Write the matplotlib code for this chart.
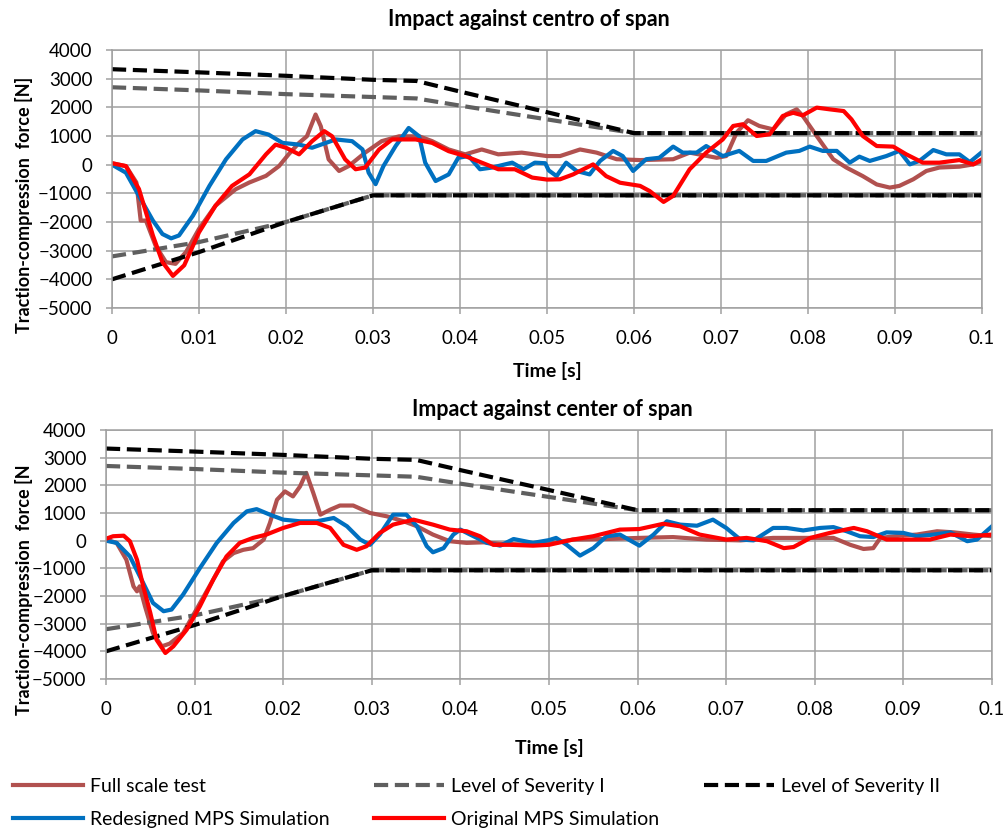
import matplotlib
matplotlib.use("Agg")
import matplotlib.pyplot as plt

plt.rcParams['font.family'] = ['Lato', 'DejaVu Sans']

# ---- severity levels (same in both panels)
t_up = [0, 0.01, 0.02, 0.03, 0.035, 0.04, 0.05, 0.06, 0.1]
sev1_up = [2700, 2590, 2460, 2360, 2310, 2060, 1580, 1100, 1100]
sev2_up = [3330, 3220, 3100, 2960, 2920, 2550, 1830, 1100, 1100]
t_low = [0, 0.01, 0.02, 0.03, 0.1]
sev1_low = [-3200, -2700, -2000, -1070, -1070]
sev2_low = [-4000, -3050, -2000, -1070, -1070]

# ---- top panel: "centro of span"
top_full_t = [0, 0.0016, 0.0028, 0.0033, 0.0039, 0.005, 0.0062, 0.0073, 0.0085, 0.01, 0.0119, 0.0142,
              0.0158, 0.0177, 0.0192, 0.0203, 0.0215, 0.0224, 0.0234, 0.024, 0.0249, 0.0261, 0.0272,
              0.0291, 0.031, 0.033, 0.0353, 0.0368, 0.0387, 0.0406, 0.0425, 0.0444, 0.0471, 0.05,
              0.0515, 0.0538, 0.0557, 0.058, 0.0607, 0.0645, 0.0664, 0.0695, 0.0706, 0.0718, 0.0731,
              0.0744, 0.076, 0.0775, 0.0787, 0.0794, 0.081, 0.0829, 0.0844, 0.0863, 0.0879, 0.0894,
              0.0905, 0.0921, 0.0936, 0.0951, 0.0974, 0.099, 0.1]
top_full_f = [50, -50, -620, -1950, -1950, -2820, -3400, -3460, -3050, -2240, -1430, -860,
              -620, -390, -50, 360, 760, 990, 1750, 1340, 185, -220, -50,
              420, 820, 990, 990, 820, 530, 360, 530, 360, 420, 300,
              300, 530, 420, 190, 160, 190, 420, 240, 300, 1120, 1550,
              1350, 1230, 1760, 1930, 1700, 1000, 190, -100, -400, -690, -800,
              -740, -510, -220, -100, -70, 10, 130]

top_red_t = [0, 0.0016, 0.0031, 0.0047, 0.0058, 0.007, 0.0083, 0.01, 0.0119, 0.0138, 0.0158, 0.0177,
             0.0188, 0.02, 0.0215, 0.023, 0.0244, 0.0253, 0.0268, 0.028, 0.0291, 0.0307, 0.0322,
             0.0349, 0.0368, 0.0387, 0.0406, 0.0425, 0.0444, 0.0463, 0.0483, 0.05, 0.0515, 0.053,
             0.0553, 0.0568, 0.0584, 0.0607, 0.0618, 0.0634, 0.0645, 0.0664, 0.0683, 0.0702, 0.0714,
             0.0725, 0.0741, 0.0756, 0.0771, 0.0783, 0.0794, 0.081, 0.0825, 0.0841, 0.085, 0.0863,
             0.0879, 0.0898, 0.0913, 0.0932, 0.0951, 0.0974, 0.099, 0.1]
top_red_f = [50, -50, -850, -2470, -3400, -3880, -3510, -2360, -1430, -740, -335, 360,
             700, 590, 360, 820, 1170, 990, 185, -160, -100, 530, 880,
             880, 760, 470, 300, 70, -160, -160, -450, -520, -510, -340,
             10, -400, -630, -740, -920, -1300, -1090, -160, 420, 880, 1350,
             1410, 1000, 1060, 1700, 1810, 1720, 1990, 1930, 1870, 1580, 1000,
             650, 630, 360, 70, 70, 160, 10, 190]

top_blue_t = [0, 0.0016, 0.0031, 0.0047, 0.0058, 0.0068, 0.0077, 0.0093, 0.0112, 0.0131, 0.015, 0.0165,
              0.018, 0.0196, 0.0215, 0.023, 0.0246, 0.0257, 0.0276, 0.0288, 0.0295, 0.0303, 0.0312,
              0.0326, 0.0341, 0.0353, 0.036, 0.0372, 0.0387, 0.0398, 0.041, 0.0423, 0.0437, 0.046,
              0.0473, 0.0486, 0.0498, 0.0502, 0.0511, 0.0522, 0.0534, 0.0549, 0.0561, 0.0576, 0.0587,
              0.0599, 0.0614, 0.0629, 0.0645, 0.0656, 0.0672, 0.0683, 0.0702, 0.0721, 0.0737, 0.0752,
              0.0775, 0.079, 0.0802, 0.0817, 0.0833, 0.0848, 0.0859, 0.0871, 0.089, 0.0905, 0.0917,
              0.0928, 0.0944, 0.0959, 0.0974, 0.0986, 0.1]
top_blue_f = [0, -280, -1090, -1950, -2420, -2570, -2470, -1780, -740, 185, 880, 1170,
              1050, 760, 700, 590, 760, 880, 820, 530, -280, -680, -50,
              650, 1280, 990, 70, -570, -340, 240, 300, -160, -100, 70,
              -160, 70, 50, -200, -400, 70, -220, -340, 130, 480, 300,
              -220, 190, 240, 630, 420, 420, 650, 300, 480, 130, 130,
              420, 480, 630, 480, 480, 70, 280, 130, 300, 480, 10,
              130, 510, 360, 360, 90, 440]

# ---- bottom panel: "center of span"
bot_full_t = [0, 0.0012, 0.0023, 0.0031, 0.0035, 0.0038, 0.0044, 0.0053, 0.0063, 0.0072, 0.0087, 0.0102,
              0.0121, 0.0132, 0.0144, 0.0155, 0.0166, 0.0178, 0.0185, 0.0193, 0.0202, 0.0211, 0.0219,
              0.0226, 0.0234, 0.0242, 0.0253, 0.0264, 0.0279, 0.0298, 0.0317, 0.0336, 0.0351, 0.0369,
              0.0388, 0.0407, 0.0426, 0.0445, 0.0482, 0.05, 0.0527, 0.0565, 0.0602, 0.064, 0.0678,
              0.0716, 0.0753, 0.0791, 0.0821, 0.084, 0.0855, 0.0866, 0.0874, 0.0896, 0.0915, 0.0938,
              0.0957, 0.0979, 0.1]
bot_full_f = [40, -80, -690, -1650, -1830, -1650, -2370, -3340, -3820, -3720, -3340, -2490,
              -1410, -750, -450, -330, -270, 40, 640, 1480, 1780, 1600, 1960,
              2450, 1720, 940, 1120, 1270, 1270, 1000, 880, 700, 520, 220,
              -20, -80, -60, -110, -150, -110, 40, 60, 100, 130, 40,
              10, 100, 100, 100, -150, -300, -270, 100, 180, 220, 340,
              300, 220, 160]

bot_red_t = [0, 0.0008, 0.002, 0.0027, 0.0035, 0.0042, 0.005, 0.0057, 0.0067, 0.0076, 0.0091, 0.0106,
             0.0121, 0.0136, 0.0151, 0.0166, 0.0181, 0.02, 0.0219, 0.0238, 0.0253, 0.0268, 0.0283,
             0.0294, 0.0309, 0.0324, 0.0347, 0.0369, 0.0388, 0.0407, 0.0422, 0.0437, 0.0456, 0.0482,
             0.05, 0.0527, 0.055, 0.058, 0.0602, 0.0629, 0.0648, 0.067, 0.07, 0.0723, 0.0746, 0.0765,
             0.0776, 0.0795, 0.0817, 0.0844, 0.0859, 0.0881, 0.0904, 0.093, 0.0953, 0.0976, 0.1]
bot_red_f = [70, 160, 180, -20, -690, -1650, -2610, -3580, -4060, -3820, -3220, -2370,
             -1410, -570, -80, 100, 220, 460, 640, 640, 460, -150, -330,
             -200, 280, 580, 760, 580, 400, 340, 160, -150, -150, -180,
             -150, 40, 160, 400, 420, 610, 520, 220, 40, 100, -20, -270,
             -230, 100, 280, 460, 340, 40, 40, 40, 220, 160, 220]

bot_blue_t = [0, 0.0012, 0.0027, 0.0042, 0.0053, 0.0065, 0.0074, 0.0087, 0.0106, 0.0125, 0.0144, 0.0159,
              0.017, 0.0185, 0.02, 0.0219, 0.0238, 0.0257, 0.0272, 0.0287, 0.0298, 0.0309, 0.0324,
              0.0339, 0.0351, 0.0362, 0.0369, 0.0381, 0.0392, 0.04, 0.0411, 0.043, 0.0445, 0.046,
              0.0482, 0.05, 0.0508, 0.052, 0.0535, 0.055, 0.0565, 0.058, 0.0602, 0.0618, 0.0633,
              0.0648, 0.0667, 0.0685, 0.07, 0.0716, 0.0731, 0.0753, 0.0768, 0.0787, 0.0806, 0.0821,
              0.0836, 0.0851, 0.0866, 0.0881, 0.09, 0.0915, 0.0934, 0.0953, 0.0972, 0.0983, 0.1]
bot_blue_f = [0, -80, -570, -1530, -2250, -2550, -2490, -1950, -990, -80, 640, 1060,
              1140, 940, 760, 700, 700, 820, 520, 40, -150, 220, 940,
              940, 520, -200, -420, -270, 220, 400, 220, -80, -180, 60,
              -80, 20, 100, -150, -540, -270, 160, 220, -180, 220, 700,
              580, 540, 760, 460, 40, 10, 460, 460, 370, 460, 490,
              340, 160, 130, 300, 280, 160, 220, 300, -20, 40, 520]

titles = ["Impact against centro of span", "Impact against center of span"]
ylabels = ["Traction-compression  force [N]", "Traction-compression  force [N"]
xticks = [0, 0.01, 0.02, 0.03, 0.04, 0.05, 0.06, 0.07, 0.08, 0.09, 0.1]
xticklabels = ["0", "0.01", "0.02", "0.03", "0.04", "0.05", "0.06", "0.07", "0.08", "0.09", "0.1"]
yticks = list(range(-5000, 4001, 1000))

c_full = '#AD4745'
c_blue = '#0070C0'
c_red = '#FF0000'
c_sev1 = '#5F5F5F'
c_sev2 = '#000000'
grid_c = '#A0A0A0'

W, H = 1006, 832
fig = plt.figure(figsize=(W / 100, H / 100), dpi=100)
ax1 = fig.add_axes([112 / W, 1 - 308 / H, 870 / W, 258 / H])
ax2 = fig.add_axes([106 / W, 1 - 679 / H, 886 / W, 249 / H])

panels = [
    (ax1, top_full_t, top_full_f, top_blue_t, top_blue_f, top_red_t, top_red_f),
    (ax2, bot_full_t, bot_full_f, bot_blue_t, bot_blue_f, bot_red_t, bot_red_f),
]
# title centre (px), ylabel pos (axes fraction), xlabel y (axes fraction)
title_pos = [(529, 19), (552, 410)]
ylab_pos = [(-0.101, 0.40), (-0.0925, 0.36)]
xlab_y = [-0.21, -0.24]

lw = 3.0
dash = (0, (3.4, 1.6))
for i, (ax, ft, ff, bt, bf, rt, rf) in enumerate(panels):
    h_full, = ax.plot(ft, ff, color=c_full, lw=lw, alpha=0.95, label='Full scale test')
    h_s1, = ax.plot(t_up, sev1_up, color=c_sev1, lw=lw, ls=dash, label='Level of Severity I')
    ax.plot(t_low, sev1_low, color=c_sev1, lw=lw, ls=dash)
    h_s2, = ax.plot(t_up, sev2_up, color=c_sev2, lw=lw, ls=dash, label='Level of Severity II')
    ax.plot(t_low, sev2_low, color=c_sev2, lw=lw, ls=dash)
    h_blue, = ax.plot(bt, bf, color=c_blue, lw=lw, label='Redesigned MPS Simulation')
    h_red, = ax.plot(rt, rf, color=c_red, lw=lw, label='Original MPS Simulation')

    ax.set_xlim(0, 0.1)
    ax.set_ylim(-5000, 4000)
    ax.set_xticks(xticks)
    ax.set_xticklabels(xticklabels)
    ax.set_yticks(yticks)
    ax.grid(True, color=grid_c, lw=1.1)
    ax.set_axisbelow(True)
    for s in ax.spines.values():
        s.set_color(grid_c)
        s.set_linewidth(1.1)
    ax.tick_params(axis='both', length=4, width=1.1, labelsize=13.5, labelcolor='#000000', color=grid_c)
    ax.tick_params(axis='x', pad=12)
    ax.tick_params(axis='y', pad=10)

    fig.text(title_pos[i][0] / W, 1 - title_pos[i][1] / H, titles[i], fontsize=15.5,
             fontweight='bold', ha='center', va='center')
    ax.set_xlabel("Time [s]", fontsize=14, fontweight='bold')
    ax.xaxis.set_label_coords(0.5, xlab_y[i])
    ax.set_ylabel(ylabels[i], fontsize=13, fontweight='bold', va='center')
    ax.yaxis.set_label_coords(*ylab_pos[i])

handles = [h_full, h_blue, h_s1, h_red, h_s2]
fig.legend(handles=handles, labels=[h.get_label() for h in handles], ncol=3,
           loc='center left', bbox_to_anchor=(13 / W, 1 - 803 / H), frameon=False,
           fontsize=14, borderpad=0, borderaxespad=0,
           handlelength=3.6, columnspacing=2.3, labelspacing=0.8, handletextpad=0.35)

fig.savefig("out.png", dpi=100)
